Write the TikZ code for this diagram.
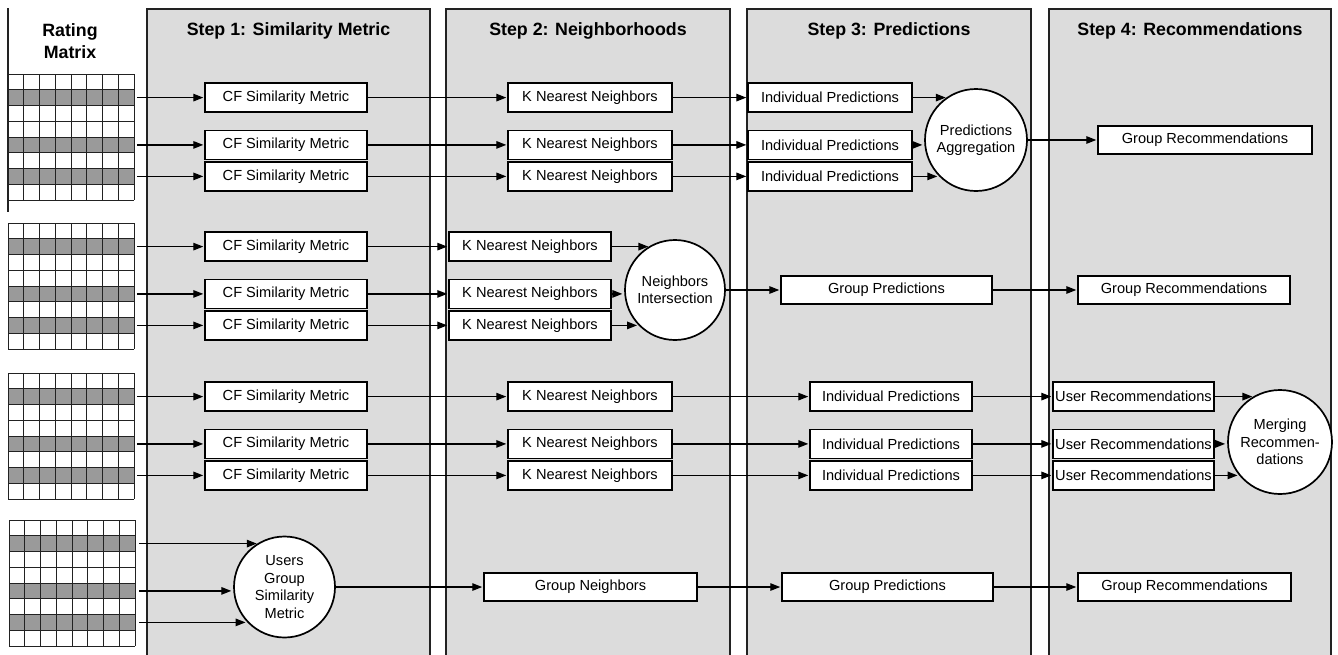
\documentclass[tikz,border=0pt]{standalone}
\usepackage{fontspec}
\setmainfont{Liberation Sans}
\usetikzlibrary{arrows.meta,calc}
\definecolor{panelgray}{HTML}{DCDCDC}
\definecolor{cellgray}{HTML}{9A9A9A}
\definecolor{linedark}{HTML}{222222}
\newcommand\ratinggrid[2]{%
  \begin{scope}[shift={(#1,#2)}]
    \fill[white] (0,0) rectangle (126,126);
    \foreach \r in {1,4,6} \fill[cellgray] (0,\r*15.75) rectangle (126,\r*15.75+15.75);
    \foreach \i in {0,...,8} {
      \draw[gridline] (\i*15.75,0) -- (\i*15.75,126);
      \draw[gridline] (0,\i*15.75) -- (126,\i*15.75);
    }
  \end{scope}}
\begin{document}
\begin{tikzpicture}[x=1pt,y=-1pt,
  panel/.style={fill=panelgray,draw=linedark,line width=1.2pt},
  gridline/.style={draw=linedark,line width=1pt},
  box/.style={draw=black,fill=white,line width=1.5pt,minimum height=29pt,inner sep=0pt,
    font=\fontsize{14.6}{17.5}\selectfont},
  circ/.style={circle,draw=black,fill=white,line width=1.7pt,inner sep=0pt,align=center,
    font=\fontsize{14.6}{17.5}\selectfont},
  arr/.style={-{Triangle[length=10pt,width=7.5pt]},line width=1.4pt,shorten >=1pt},
  carr/.style={arr,shorten >=2pt},
  head/.style={font=\fontsize{17.8}{22}\selectfont\bfseries,anchor=base}]

\useasboundingbox (0,0) rectangle (1338,654);
\clip (0,0) rectangle (1338,654);

% panels
\foreach \a/\b in {147/430,446/730,747/1031,1049/1331}
  \draw[panel] (\a,9) rectangle (\b,670);
\draw[line width=1.2pt,linedark] (8,8) -- (8,212);

% headers
\node[head] (hr1) at (70,36) {Rating};
\node[head] (hr2) at (70,58) {Matrix};
\node[head] (h1) at (288.5,35.5) {Step 1: Similarity Metric};
\node[head] (h2) at (588,35.5) {Step 2: Neighborhoods};
\node[head] (h3) at (889,35.5) {Step 3: Predictions};
\node[head] (h4) at (1190,35.5) {Step 4: Recommendations};

% rating matrices
\ratinggrid{8}{74}
\ratinggrid{8}{223}
\ratinggrid{8}{373}
\ratinggrid{9}{520}

\coordinate (g1a) at (137,97.6);  \coordinate (g1b) at (137,144.9); \coordinate (g1c) at (137,176.4);
\coordinate (g2a) at (137,246.6); \coordinate (g2b) at (137,293.9); \coordinate (g2c) at (137,325.4);
\coordinate (g3a) at (137,396.6); \coordinate (g3b) at (137,443.9); \coordinate (g3c) at (137,475.4);
\coordinate (g4a) at (139,543.6); \coordinate (g4b) at (139,590.9); \coordinate (g4c) at (139,622.4);

% ---------- block 1
\node[box,minimum width=162pt] (cf1a) at (286,97.6) {CF Similarity Metric};
\node[box,minimum width=162pt] (cf1b) at (286,144.9) {CF Similarity Metric};
\node[box,minimum width=162pt] (cf1c) at (286,176.4) {CF Similarity Metric};
\node[box,minimum width=164pt] (kn1a) at (590,97.6) {K Nearest Neighbors};
\node[box,minimum width=164pt] (kn1b) at (590,144.9) {K Nearest Neighbors};
\node[box,minimum width=164pt] (kn1c) at (590,176.4) {K Nearest Neighbors};
\node[box,minimum width=164pt] (ip1a) at (830,97.6) {Individual Predictions};
\node[box,minimum width=164pt] (ip1b) at (830,144.9) {Individual Predictions};
\node[box,minimum width=164pt] (ip1c) at (830,176.4) {Individual Predictions};
\node[circ,minimum size=102pt] (pa) at (976,140) {Predictions\\Aggregation};
\node[box,minimum width=214pt,minimum height=28pt] (gr1) at (1205,140) {Group Recommendations};

\foreach \r in {a,b,c} {
  \draw[arr] (g1\r) -- (cf1\r.west);
  \draw[arr] (cf1\r.east) -- (kn1\r.west);
  \draw[arr] (kn1\r.east) -- (ip1\r.west);
}
\draw[carr] (ip1a.east) -- (ip1a.east -| pa.123.8);
\draw[carr] (ip1b.east) -- (ip1b.east -| pa.185.5);
\draw[carr] (ip1c.east) -- (ip1c.east -| pa.225.6);
\draw[arr] (pa.east) -- (gr1.west);

% ---------- block 2
\node[box,minimum width=162pt] (cf2a) at (286,246.6) {CF Similarity Metric};
\node[box,minimum width=162pt] (cf2b) at (286,293.9) {CF Similarity Metric};
\node[box,minimum width=162pt] (cf2c) at (286,325.4) {CF Similarity Metric};
\node[box,minimum width=162pt] (kn2a) at (530,246.6) {K Nearest Neighbors};
\node[box,minimum width=162pt] (kn2b) at (530,293.9) {K Nearest Neighbors};
\node[box,minimum width=162pt] (kn2c) at (530,325.4) {K Nearest Neighbors};
\node[circ,minimum size=100pt] (ni) at (675,290) {Neighbors\\Intersection};
\node[box,minimum width=211pt,minimum height=28pt] (gp2) at (886.5,290) {Group Predictions};
\node[box,minimum width=212pt,minimum height=28pt] (gr2) at (1184,290) {Group Recommendations};

\foreach \r in {a,b,c} {
  \draw[arr] (g2\r) -- (cf2\r.west);
  \draw[arr] (cf2\r.east) -- (kn2\r.west);
}
\draw[carr] (kn2a.east) -- (kn2a.east -| ni.119.8);
\draw[carr] (kn2b.east) -- (kn2b.east -| ni.184.5);
\draw[carr] (kn2c.east) -- (kn2c.east -| ni.225.1);
\draw[arr] (ni.east) -- (gp2.west);
\draw[arr] (gp2.east) -- (gr2.west);

% ---------- block 3
\node[box,minimum width=162pt] (cf3a) at (286,396.6) {CF Similarity Metric};
\node[box,minimum width=162pt] (cf3b) at (286,443.9) {CF Similarity Metric};
\node[box,minimum width=162pt] (cf3c) at (286,475.4) {CF Similarity Metric};
\node[box,minimum width=164pt] (kn3a) at (590,396.6) {K Nearest Neighbors};
\node[box,minimum width=164pt] (kn3b) at (590,443.9) {K Nearest Neighbors};
\node[box,minimum width=164pt] (kn3c) at (590,475.4) {K Nearest Neighbors};
\node[box,minimum width=162pt] (ip3a) at (891,396.6) {Individual Predictions};
\node[box,minimum width=162pt] (ip3b) at (891,443.9) {Individual Predictions};
\node[box,minimum width=162pt] (ip3c) at (891,475.4) {Individual Predictions};
\node[box,minimum width=161pt] (ur3a) at (1133.5,396.6) {User Recommendations};
\node[box,minimum width=161pt] (ur3b) at (1133.5,443.9) {User Recommendations};
\node[box,minimum width=161pt] (ur3c) at (1133.5,475.4) {User Recommendations};
\node[circ,minimum size=104pt] (mr) at (1280,442) {Merging\\Recommen-\\dations};

\foreach \r in {a,b,c} {
  \draw[arr] (g3\r) -- (cf3\r.west);
  \draw[arr] (cf3\r.east) -- (kn3\r.west);
  \draw[arr] (kn3\r.east) -- (ip3\r.west);
  \draw[arr] (ip3\r.east) -- (ur3\r.west);
}
\draw[carr] (ur3a.east) -- (ur3a.east -| mr.119.2);
\draw[carr] (ur3b.east) -- (ur3b.east -| mr.182.1);
\draw[carr] (ur3c.east) -- (ur3c.east -| mr.220);

% ---------- block 4
\node[circ,minimum size=101pt] (ug) at (284.5,587) {Users\\Group\\Similarity\\Metric};
\node[box,minimum width=213pt,minimum height=28pt] (gn4) at (590.5,587) {Group Neighbors};
\node[box,minimum width=211pt,minimum height=28pt] (gp4) at (887.5,587) {Group Predictions};
\node[box,minimum width=213pt,minimum height=28pt] (gr4) at (1184.5,587) {Group Recommendations};

\draw[carr] (g4a) -- (g4a -| ug.120.8);
\draw[carr] (g4b) -- (g4b -| ug.184.4);
\draw[carr] (g4c) -- (g4c -| ug.224.5);
\draw[arr] (ug.east) -- (gn4.west);
\draw[arr] (gn4.east) -- (gp4.west);
\draw[arr] (gp4.east) -- (gr4.west);
\end{tikzpicture}
\end{document}
